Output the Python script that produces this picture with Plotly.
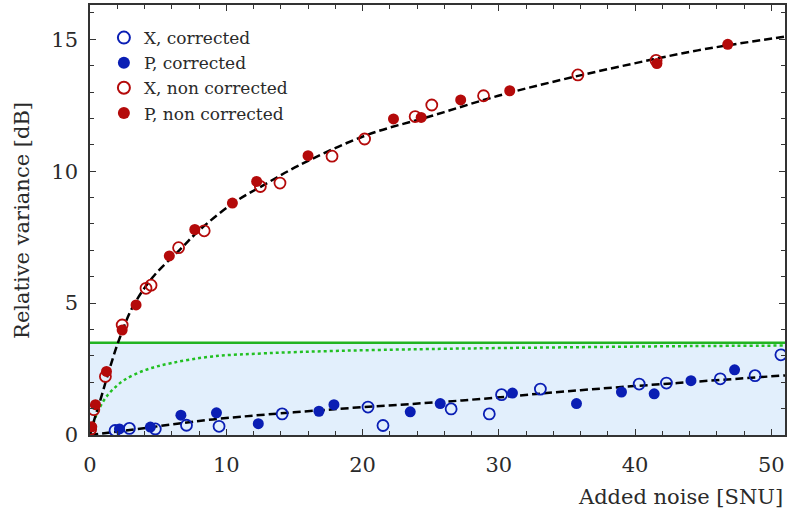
import plotly.graph_objects as go

# ---- data ----
# Blue: corrected
x_corr_X = [1.84, 2.89, 4.79, 7.08, 9.47, 14.1, 20.4, 21.5, 26.5, 29.3, 30.2, 33.05, 40.3, 42.3, 46.25, 48.8, 50.7]
y_corr_X = [0.17, 0.25, 0.23, 0.37, 0.33, 0.80, 1.06, 0.36, 0.99, 0.80, 1.53, 1.74, 1.93, 1.97, 2.13, 2.25, 3.04]
x_corr_P = [2.16, 4.43, 6.67, 9.28, 12.35, 16.8, 17.9, 23.5, 25.7, 31.0, 35.7, 39.0, 41.4, 44.1, 47.3]
y_corr_P = [0.23, 0.30, 0.75, 0.84, 0.43, 0.90, 1.15, 0.88, 1.19, 1.59, 1.19, 1.63, 1.56, 2.06, 2.47]

# Red: non corrected
x_nc_X = [0.05, 0.28, 1.13, 2.36, 4.11, 4.48, 6.5, 8.38, 12.5, 13.94, 17.76, 20.15, 23.86, 25.08, 28.88, 35.8, 41.54]
y_nc_X = [0.22, 0.96, 2.22, 4.17, 5.56, 5.68, 7.10, 7.74, 9.42, 9.55, 10.57, 11.22, 12.07, 12.51, 12.86, 13.65, 14.20]
x_nc_P = [0.13, 0.40, 1.21, 2.36, 3.38, 5.82, 7.69, 10.45, 12.23, 16.0, 22.27, 24.3, 27.2, 30.8, 41.6, 46.8]
y_nc_P = [0.31, 1.15, 2.41, 3.98, 4.93, 6.79, 7.79, 8.79, 9.61, 10.59, 11.98, 12.04, 12.70, 13.05, 14.08, 14.81]

# Fit curves
fit_hi_x = [0.0, 0.35, 0.7, 1.43, 2.16, 3.13, 4.6, 6.55, 8.0, 10.45, 12.9, 15.3, 20.2, 25.1, 29.96, 34.8, 39.7, 44.6, 51.0]
fit_hi_y = [0.0, 0.64, 1.22, 2.50, 3.65, 4.85, 5.98, 7.00, 7.75, 8.77, 9.52, 10.21, 11.35, 12.10, 12.86, 13.49, 14.06, 14.58, 15.10]
fit_lo_x = [0.0, 4.1, 9.0, 18.25, 27.3, 36.0, 43.1, 51.0]
fit_lo_y = [0.0, 0.27, 0.59, 0.99, 1.31, 1.70, 1.97, 2.26]

# Green limits
limit_x = [0.0, 51.0]
limit_y = [3.5, 3.5]
theo_x = [0.0, 0.1, 0.25, 0.5, 0.8, 1.2, 1.67, 2.5, 4.1, 6.0, 9.0, 13.0, 18.25, 25.0, 36.0, 44.0, 51.0]
theo_y = [0.0, 0.19, 0.45, 0.80, 1.12, 1.45, 1.72, 2.08, 2.47, 2.73, 2.98, 3.10, 3.19, 3.26, 3.33, 3.37, 3.39]

BLUE = "#0a1eb4"
RED = "#b40a0a"
GREEN = "#22b422"
GREEN_DOT = "#22c022"
FONT = "DejaVu Serif"
TXT = "#2a2a2a"

fig = go.Figure()

fig.add_trace(go.Scatter(x=limit_x, y=limit_y, mode="lines", fill="tozeroy",
                         fillcolor="#e2effc", line=dict(color=GREEN, width=2.5),
                         showlegend=False, hoverinfo="skip"))
fig.add_trace(go.Scatter(x=theo_x, y=theo_y, mode="lines", line_shape="spline",
                         line=dict(color=GREEN_DOT, width=2.5, dash="3px,3px"),
                         showlegend=False))
fig.add_trace(go.Scatter(x=fit_hi_x, y=fit_hi_y, mode="lines", line_shape="spline",
                         line=dict(color="black", width=2.5, dash="8px,4px"),
                         showlegend=False))
fig.add_trace(go.Scatter(x=fit_lo_x, y=fit_lo_y, mode="lines", line_shape="spline",
                         line=dict(color="black", width=2.5, dash="8px,4px"),
                         showlegend=False))

fig.add_trace(go.Scatter(x=x_corr_X, y=y_corr_X, mode="markers", name="X, corrected",
                         marker=dict(symbol="circle-open", size=11, color=BLUE, line=dict(width=1.8))))
fig.add_trace(go.Scatter(x=x_corr_P, y=y_corr_P, mode="markers", name="P, corrected",
                         marker=dict(symbol="circle", size=11, color=BLUE)))
fig.add_trace(go.Scatter(x=x_nc_X, y=y_nc_X, mode="markers", name="X, non corrected",
                         marker=dict(symbol="circle-open", size=11, color=RED, line=dict(width=1.8))))
fig.add_trace(go.Scatter(x=x_nc_P, y=y_nc_P, mode="markers", name="P, non corrected",
                         marker=dict(symbol="circle", size=11, color=RED)))

axis_common = dict(showgrid=False, zeroline=False, showline=True, linecolor="#333333",
                   linewidth=1.5, mirror="allticks", ticks="inside", ticklen=6,
                   tickwidth=1.3, tickcolor="#333333",
                   tickfont=dict(family=FONT, size=21, color=TXT))

fig.update_layout(
    width=790, height=519,
    margin=dict(l=90, r=3, t=4, b=84),
    paper_bgcolor="white", plot_bgcolor="white",
    font=dict(family=FONT, color=TXT),
    xaxis=dict(range=[0, 51], tickmode="linear", tick0=0, dtick=10, ticklabelstandoff=10,
               minor=dict(dtick=2, ticks="inside", ticklen=4, tickcolor="#333333", tickwidth=1.2),
               **axis_common),
    yaxis=dict(range=[0, 16.3], tickmode="linear", tick0=0, dtick=5, ticklabelstandoff=6,
               minor=dict(dtick=1, ticks="inside", ticklen=4, tickcolor="#333333", tickwidth=1.2),
               **axis_common),
    legend=dict(x=0.02, y=0.965, xanchor="left", yanchor="top",
                bgcolor="rgba(0,0,0,0)", font=dict(family=FONT, size=17, color=TXT),
                itemsizing="constant", tracegroupgap=0),
    annotations=[
        dict(text="Added noise [SNU]", x=1.0, y=-0.145, xref="paper", yref="paper",
             xanchor="right", yanchor="middle", showarrow=False,
             font=dict(family=FONT, size=21, color=TXT)),
        dict(text="Relative variance [dB]", x=-0.098, y=0.5, xref="paper", yref="paper",
             xanchor="center", yanchor="middle", showarrow=False, textangle=-90,
             font=dict(family=FONT, size=21, color=TXT)),
    ],
)

fig.write_html("out.html")
